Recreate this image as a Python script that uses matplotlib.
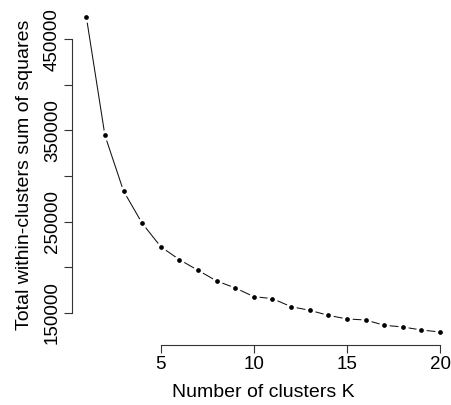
import matplotlib
matplotlib.use("Agg")
import matplotlib.pyplot as plt
import numpy as np

k = list(range(1, 21))
wss = [474800, 344600, 283500, 248100, 222400, 208200, 196500, 184800, 177100, 167600,
       165400, 156600, 152600, 147100, 143100, 142000, 136200, 134300, 131000, 128800]
xticks = [5, 10, 15, 20]
yticks = [150000, 200000, 250000, 300000, 350000, 400000, 450000]
ytick_labels = ["150000", "", "250000", "", "350000", "", "450000"]

plt.rcParams['font.family'] = ['Liberation Sans', 'DejaVu Sans']
fig = plt.figure(figsize=(4.52, 4.05), dpi=100)
ax = fig.add_axes([0.1596, 0.1491, 0.8453, 0.8408])
ax.patch.set_alpha(0)

ax.plot(k, wss, color='#111111', lw=0.75, zorder=1, solid_capstyle='butt')
ax.plot(k, wss, 'o', color='white', ms=7.5, mew=0, zorder=2)
ax.plot(k, wss, 'o', color='black', ms=3.4, mew=0, zorder=3)

ax.set_xlim(0.24, 20.76)
ax.set_ylim(114960, 488600)

for s in ['top', 'right']:
    ax.spines[s].set_visible(False)
ax.spines['left'].set_bounds(150000, 450000)
ax.spines['bottom'].set_bounds(5, 20)
for s in ['left', 'bottom']:
    ax.spines[s].set_linewidth(0.8)
    ax.spines[s].set_color('#333333')

ax.set_xticks(xticks)
ax.set_xticklabels([str(v) for v in xticks])
ax.set_yticks(yticks)
ax.set_yticklabels(ytick_labels, rotation=90, va='center')
ax.tick_params(axis='both', length=5.5, width=0.8, color='#333333', labelsize=13.5)
ax.tick_params(axis='x', pad=2.5)
ax.tick_params(axis='y', pad=2.5)

ax.set_xlabel("Number of clusters K", fontsize=14, labelpad=8)
ax.set_ylabel("Total within-clusters sum of squares", fontsize=14, labelpad=8)

fig.savefig("out.png", dpi=100)
